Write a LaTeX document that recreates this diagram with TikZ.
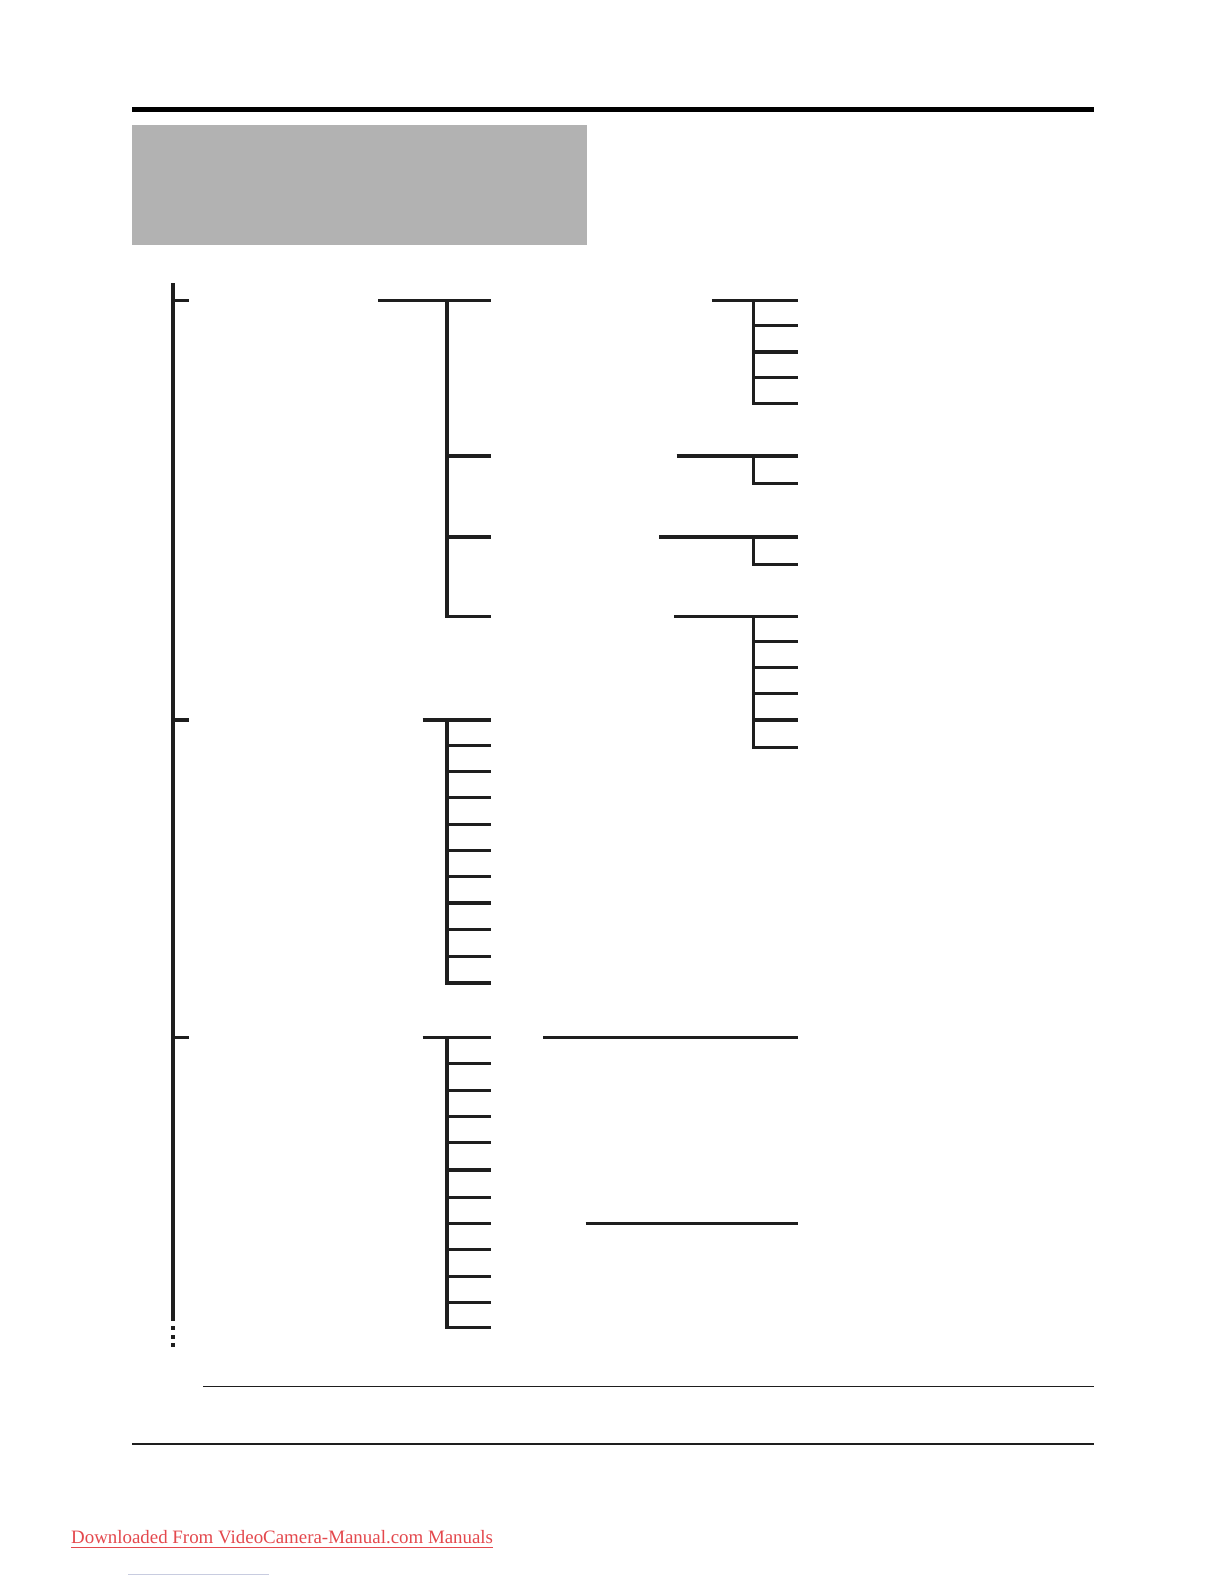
\documentclass[tikz,border=0pt]{standalone}
\usepackage{fontspec}
\setmainfont{Liberation Serif}
\definecolor{boxgray}{HTML}{B2B2B2}
\definecolor{ink}{HTML}{1E1E1E}
\definecolor{footred}{HTML}{E4484D}
\definecolor{faintline}{HTML}{C8CCE0}
\begin{document}
\begin{tikzpicture}[x=0.5pt,y=-0.5pt,
  tree/.style={line width=1.6pt, draw=ink, line join=miter},
  rule/.style={line width=0.75pt, draw=ink},
  dotbox/.style={fill=ink}]
\useasboundingbox (0,0) rectangle (1224,1584);
\fill[white] (0,0) rectangle (1224,1584);
\begin{scope}[scale=1.011]
% header
\fill[black] (131,106) rectangle (1082,111);
\fill[boxgray] (131,124) rectangle (581,242);
% main spine
\coordinate (s0) at (171,280);
\coordinate (s1) at (171,1306);
\draw[tree] (s0) -- (s1);
\foreach \yy in {1312,1320,1328} \fill[dotbox] (169,\yy) rectangle (173,\yy+4);
% level-1 stubs
\foreach \yy/\nm in {297/a,712/b,1026/c} {
  \coordinate (st\nm) at (171,\yy);
  \coordinate (se\nm) at (187,\yy);
  \draw[tree] (st\nm) -- (se\nm);
}
% group A (level 2)
\coordinate (ah0) at (374,297); \coordinate (ah1) at (486,297);
\draw[tree] (ah0) -- (ah1);
\coordinate (av0) at (442,297); \coordinate (av1) at (442,610); \coordinate (ar3) at (486,610);
\draw[tree] (av0) -- (av1) -- (ar3);
\foreach \yy/\nm in {451/1,531/2} {
  \coordinate (arl\nm) at (442,\yy); \coordinate (arr\nm) at (486,\yy);
  \draw[tree] (arl\nm) -- (arr\nm);
}
% group A1
\coordinate (p0) at (704,297); \coordinate (p1) at (789,297);
\draw[tree] (p0) -- (p1);
\coordinate (pv0) at (745,297); \coordinate (pv1) at (745,399); \coordinate (pe) at (789,399);
\draw[tree] (pv0) -- (pv1) -- (pe);
\foreach \yy/\nm in {322/1,348/2,373/3} {
  \coordinate (pl\nm) at (745,\yy); \coordinate (pr\nm) at (789,\yy);
  \draw[tree] (pl\nm) -- (pr\nm);
}
% group A2
\coordinate (q0) at (669,451); \coordinate (q1) at (789,451);
\draw[tree] (q0) -- (q1);
\coordinate (qv0) at (745,451); \coordinate (qv1) at (745,478); \coordinate (qe) at (789,478);
\draw[tree] (qv0) -- (qv1) -- (qe);
% group A3
\coordinate (r0) at (652,531); \coordinate (r1) at (789,531);
\draw[tree] (r0) -- (r1);
\coordinate (rv0) at (745,531); \coordinate (rv1) at (745,558); \coordinate (re) at (789,558);
\draw[tree] (rv0) -- (rv1) -- (re);
% group A4
\coordinate (t0) at (667,610); \coordinate (t1) at (789,610);
\draw[tree] (t0) -- (t1);
\coordinate (tv0) at (745,610); \coordinate (tv1) at (745,739); \coordinate (te) at (789,739);
\draw[tree] (tv0) -- (tv1) -- (te);
\foreach \yy/\nm in {634/1,660/2,686/3,712/4} {
  \coordinate (tl\nm) at (745,\yy); \coordinate (tr\nm) at (789,\yy);
  \draw[tree] (tl\nm) -- (tr\nm);
}
% group B
\coordinate (b0) at (418,712); \coordinate (b1) at (486,712);
\draw[tree] (b0) -- (b1);
\coordinate (bv0) at (442,712); \coordinate (bv1) at (442,972); \coordinate (be) at (486,972);
\draw[tree] (bv0) -- (bv1) -- (be);
\foreach \yy/\nm in {737/1,763/2,789/3,815/4,841/5,867/6,893/7,919/8,946/9} {
  \coordinate (bl\nm) at (442,\yy); \coordinate (br\nm) at (486,\yy);
  \draw[tree] (bl\nm) -- (br\nm);
}
% group C
\coordinate (c0) at (418,1026); \coordinate (c1) at (486,1026);
\draw[tree] (c0) -- (c1);
\coordinate (cv0) at (442,1026); \coordinate (cv1) at (442,1313); \coordinate (ce) at (486,1313);
\draw[tree] (cv0) -- (cv1) -- (ce);
\foreach \yy/\nm in {1052/1,1078/2,1104/3,1130/4,1157/5,1184/6,1210/7,1236/8,1262/9,1288/10} {
  \coordinate (cl\nm) at (442,\yy); \coordinate (cr\nm) at (486,\yy);
  \draw[tree] (cl\nm) -- (cr\nm);
}
% standalone lines of group C
\coordinate (u0) at (537,1026); \coordinate (u1) at (789,1026);
\draw[tree] (u0) -- (u1);
\coordinate (w0) at (579,1210); \coordinate (w1) at (789,1210);
\draw[tree] (w0) -- (w1);
% footer rules
\coordinate (f0) at (201,1371); \coordinate (f1) at (1082,1371);
\draw[rule] (f0) -- (f1);
\coordinate (g0) at (131,1428); \coordinate (g1) at (1082,1428);
\draw[rule] (g0) -- (g1);
% footer link
\node[anchor=base west, inner sep=0pt, text=footred, font=\fontsize{9.45}{11}\selectfont] (foot) at (70,1527)
  {\underline{Downloaded From VideoCamera-Manual.com Manuals}};
\coordinate (h0) at (127,1557); \coordinate (h1) at (266,1557);
\draw[line width=0.5pt, draw=faintline] (h0) -- (h1);
\end{scope}
\end{tikzpicture}
\end{document}
